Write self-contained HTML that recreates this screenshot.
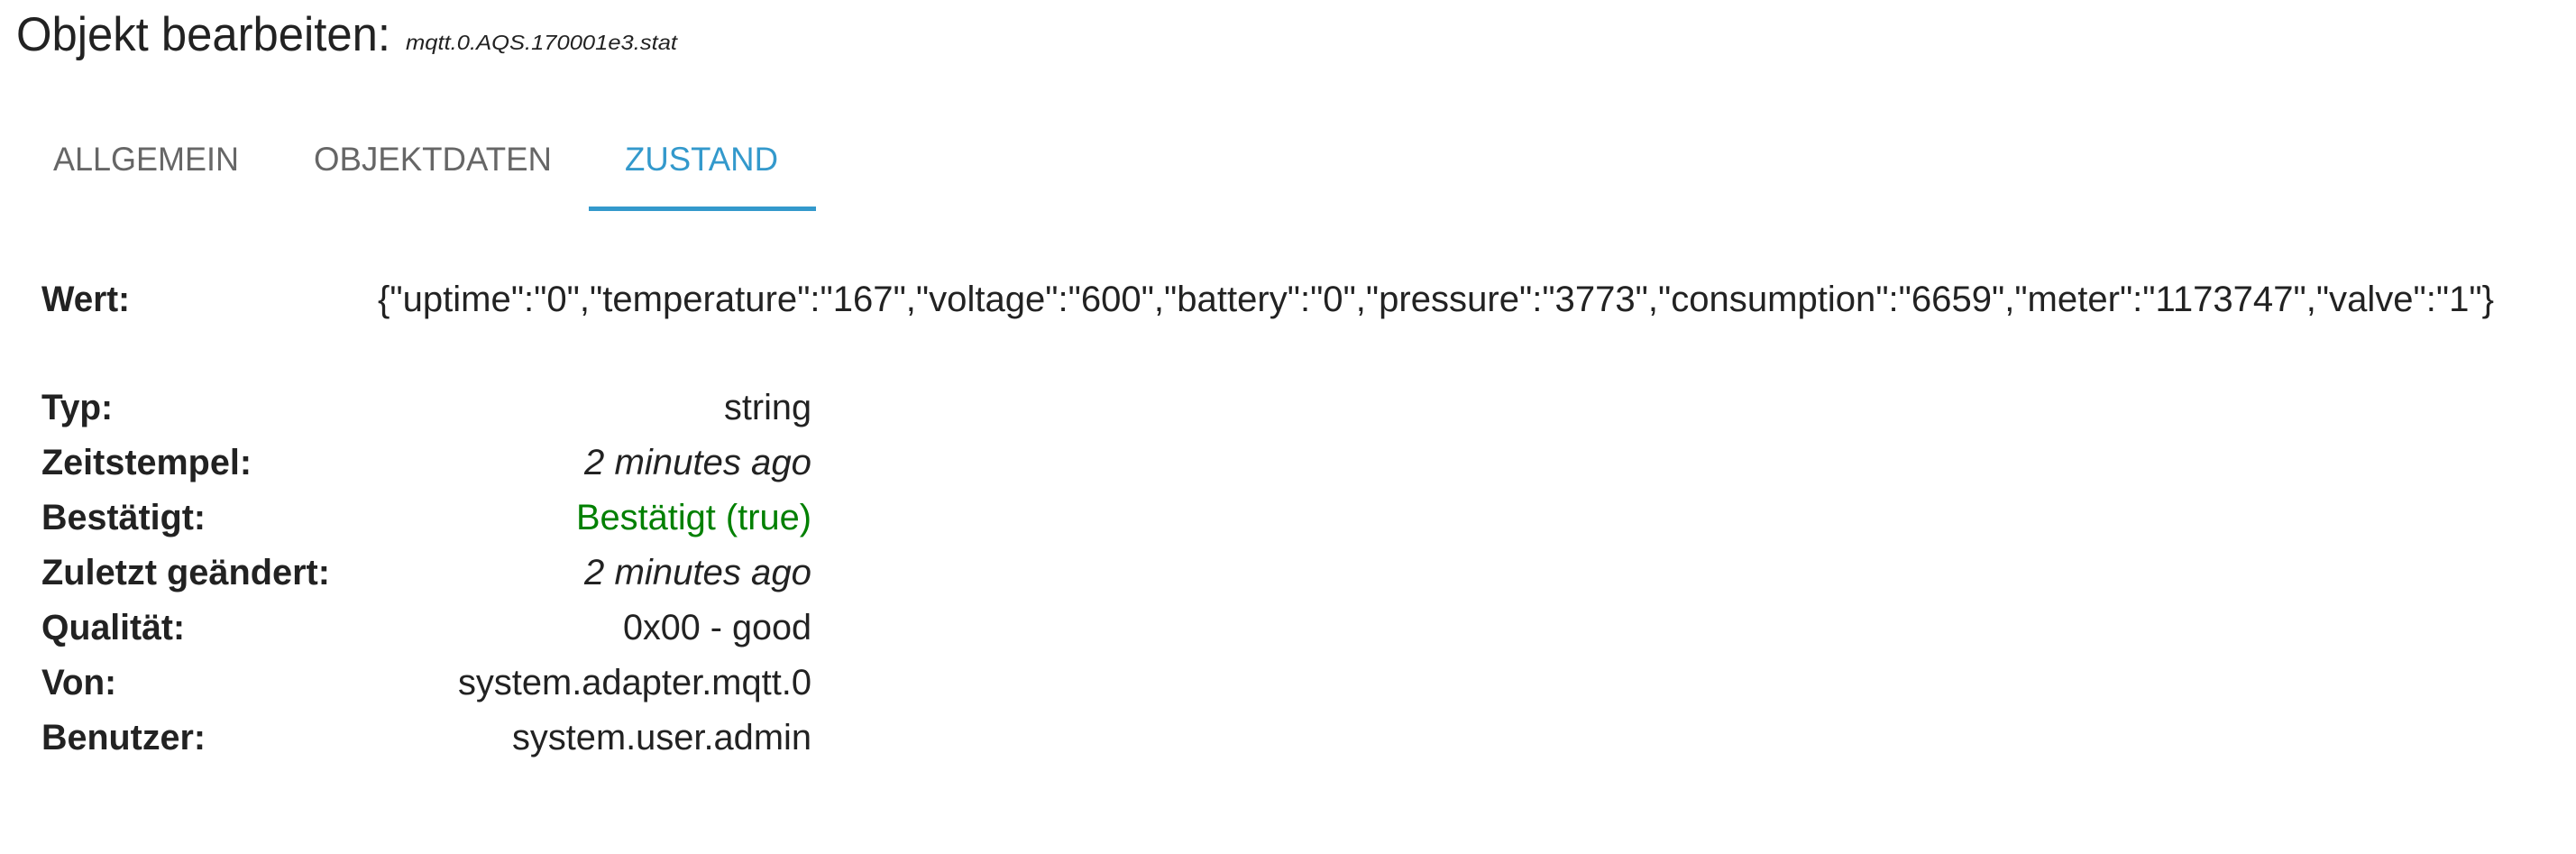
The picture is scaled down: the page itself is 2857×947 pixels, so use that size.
<!DOCTYPE html>
<html><head><meta charset="utf-8"><style>
html,body{margin:0;padding:0;background:#fff;}
svg{display:block;}
text{font-family:"Liberation Sans",Arial,sans-serif;}
</style></head><body>
<svg width="2857" height="947" viewBox="0 0 2857 947" xmlns="http://www.w3.org/2000/svg">
<rect width="2857" height="947" fill="#fff"/>
<text x="18" y="56" font-size="53" fill="#222" textLength="415" lengthAdjust="spacingAndGlyphs">Objekt bearbeiten:</text>
<text x="450" y="55" font-size="23" font-style="italic" fill="#222" textLength="301" lengthAdjust="spacingAndGlyphs">mqtt.0.AQS.170001e3.stat</text>

<text x="59" y="189" font-size="37" fill="#666" textLength="206" lengthAdjust="spacingAndGlyphs">ALLGEMEIN</text>
<text x="348" y="189" font-size="37" fill="#666" textLength="264" lengthAdjust="spacingAndGlyphs">OBJEKTDATEN</text>
<text x="693" y="189" font-size="37" fill="#3399cc" textLength="170" lengthAdjust="spacingAndGlyphs">ZUSTAND</text>
<rect x="653" y="229" width="252" height="5" fill="#3399cc"/>

<g font-size="40" fill="#222" lengthAdjust="spacingAndGlyphs">
<text x="46" y="345" font-weight="bold" textLength="98" lengthAdjust="spacingAndGlyphs">Wert:</text>
<text x="419" y="345" textLength="2347" lengthAdjust="spacingAndGlyphs">{"uptime":"0","temperature":"167","voltage":"600","battery":"0","pressure":"3773","consumption":"6659","meter":"1173747","valve":"1"}</text>

<text x="46" y="465" font-weight="bold" textLength="79" lengthAdjust="spacingAndGlyphs">Typ:</text>
<text x="46" y="526" font-weight="bold" textLength="233" lengthAdjust="spacingAndGlyphs">Zeitstempel:</text>
<text x="46" y="587" font-weight="bold" textLength="182" lengthAdjust="spacingAndGlyphs">Bestätigt:</text>
<text x="46" y="648" font-weight="bold" textLength="320" lengthAdjust="spacingAndGlyphs">Zuletzt geändert:</text>
<text x="46" y="709" font-weight="bold" textLength="159" lengthAdjust="spacingAndGlyphs">Qualität:</text>
<text x="46" y="770" font-weight="bold" textLength="83" lengthAdjust="spacingAndGlyphs">Von:</text>
<text x="46" y="831" font-weight="bold" textLength="182" lengthAdjust="spacingAndGlyphs">Benutzer:</text>

<text x="803" y="465" textLength="97" lengthAdjust="spacingAndGlyphs">string</text>
<text x="648" y="526" font-style="italic" textLength="252" lengthAdjust="spacingAndGlyphs">2 minutes ago</text>
<text x="639" y="587" fill="#008000" textLength="261" lengthAdjust="spacingAndGlyphs">Bestätigt (true)</text>
<text x="648" y="648" font-style="italic" textLength="252" lengthAdjust="spacingAndGlyphs">2 minutes ago</text>
<text x="691" y="709" textLength="209" lengthAdjust="spacingAndGlyphs">0x00 - good</text>
<text x="508" y="770" textLength="392" lengthAdjust="spacingAndGlyphs">system.adapter.mqtt.0</text>
<text x="568" y="831" textLength="332" lengthAdjust="spacingAndGlyphs">system.user.admin</text>
</g>
</svg>
</body></html>
